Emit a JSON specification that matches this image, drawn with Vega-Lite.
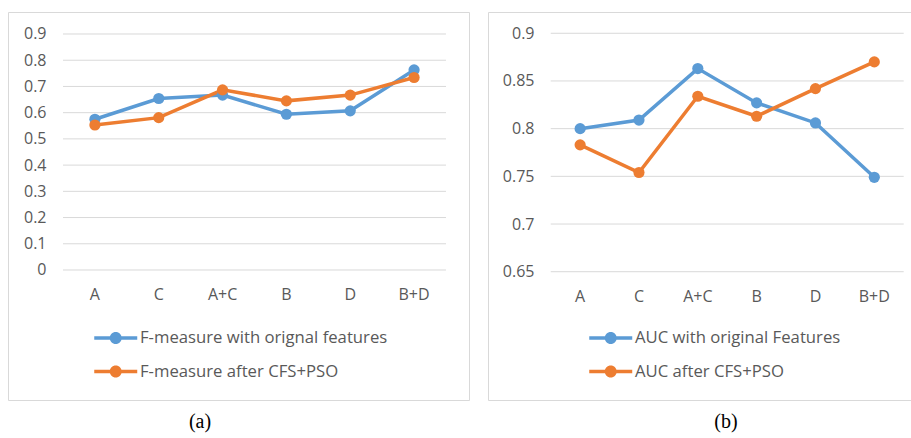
{
  "$schema": "https://vega.github.io/schema/vega-lite/v6.json",
  "padding": {"left": 7, "top": 11, "right": 0, "bottom": 0},
  "background": "white",
  "spacing": 17,
  "datasets": {
    "f": [
      {"cat": "A", "series": "F-measure with orignal features", "value": 0.575},
      {"cat": "C", "series": "F-measure with orignal features", "value": 0.654},
      {"cat": "A+C", "series": "F-measure with orignal features", "value": 0.667},
      {"cat": "B", "series": "F-measure with orignal features", "value": 0.594},
      {"cat": "D", "series": "F-measure with orignal features", "value": 0.607},
      {"cat": "B+D", "series": "F-measure with orignal features", "value": 0.763},
      {"cat": "A", "series": "F-measure after CFS+PSO", "value": 0.553},
      {"cat": "C", "series": "F-measure after CFS+PSO", "value": 0.581},
      {"cat": "A+C", "series": "F-measure after CFS+PSO", "value": 0.687},
      {"cat": "B", "series": "F-measure after CFS+PSO", "value": 0.645},
      {"cat": "D", "series": "F-measure after CFS+PSO", "value": 0.667},
      {"cat": "B+D", "series": "F-measure after CFS+PSO", "value": 0.734}
    ],
    "auc": [
      {"cat": "A", "series": "AUC with original Features", "value": 0.800},
      {"cat": "C", "series": "AUC with original Features", "value": 0.809},
      {"cat": "A+C", "series": "AUC with original Features", "value": 0.863},
      {"cat": "B", "series": "AUC with original Features", "value": 0.827},
      {"cat": "D", "series": "AUC with original Features", "value": 0.806},
      {"cat": "B+D", "series": "AUC with original Features", "value": 0.749},
      {"cat": "A", "series": "AUC after CFS+PSO", "value": 0.783},
      {"cat": "C", "series": "AUC after CFS+PSO", "value": 0.754},
      {"cat": "A+C", "series": "AUC after CFS+PSO", "value": 0.834},
      {"cat": "B", "series": "AUC after CFS+PSO", "value": 0.813},
      {"cat": "D", "series": "AUC after CFS+PSO", "value": 0.842},
      {"cat": "B+D", "series": "AUC after CFS+PSO", "value": 0.870}
    ],
    "gridA": [
      {"value": 0}, {"value": 0.1}, {"value": 0.2}, {"value": 0.3}, {"value": 0.4},
      {"value": 0.5}, {"value": 0.6}, {"value": 0.7}, {"value": 0.8}, {"value": 0.9}
    ],
    "gridB": [
      {"value": 0.65}, {"value": 0.7}, {"value": 0.75}, {"value": 0.8}, {"value": 0.85}, {"value": 0.9}
    ]
  },
  "config": {
    "view": {"stroke": "#d9d9d9", "strokeWidth": 1},
    "font": "Open Sans",
    "axis": {
      "grid": false, "domain": false, "ticks": false, "tickSize": 0,
      "labelColor": "#595959", "labelFontSize": 16, "labelPadding": 0,
      "title": null, "labelFont": "Open Sans"
    },
    "legend": {
      "orient": "none", "direction": "vertical", "title": null, "padding": 0,
      "symbolType": "M-1,-0.16 L3,-0.16 L3,0.16 L-1,0.16 Z M1.56,0 A0.56,0.56 0 1,1 0.44,0 A0.56,0.56 0 1,1 1.56,0 Z",
      "symbolSize": 462, "symbolStrokeWidth": 0, "symbolOpacity": 1,
      "labelFontSize": 16.7, "labelColor": "#595959", "labelFont": "Open Sans",
      "labelOffset": 24, "rowPadding": 13.5, "labelLimit": 400
    },
    "title": {
      "orient": "bottom", "font": "Liberation Serif", "fontSize": 20,
      "fontWeight": "normal", "color": "#000000", "baseline": "top", "offset": 12
    }
  },
  "hconcat": [
    {
      "width": 461, "height": 388,
      "title": {"text": "(a)", "dx": -38.5},
      "data": {"name": "f"},
      "encoding": {
        "x": {
          "field": "cat", "type": "nominal",
          "scale": {"type": "band", "domain": ["A", "C", "A+C", "B", "D", "B+D"], "paddingInner": 0, "paddingOuter": 0.611, "align": 0.705},
          "axis": {"orient": "bottom", "offset": -106, "labelBaseline": "middle", "labelAngle": 0}
        },
        "y": {
          "field": "value", "type": "quantitative",
          "scale": {"domain": [-0.4958, 0.9839], "nice": false, "zero": false},
          "axis": {"values": [0, 0.1, 0.2, 0.3, 0.4, 0.5, 0.6, 0.7, 0.8, 0.9], "format": "~g", "offset": -38, "labelAlign": "right", "labelBaseline": "middle"}
        },
        "color": {"field": "series", "type": "nominal",
          "scale": {"domain": ["F-measure with orignal features", "F-measure after CFS+PSO"], "range": ["#5b9bd5", "#ed7d31"]},
          "legend": {"legendX": 86, "legendY": 315}}
      },
      "layer": [
        {
          "data": {"name": "gridA"},
          "mark": {"type": "rule", "color": "#d9d9d9", "strokeWidth": 1},
          "encoding": {
            "x": {"datum": "A", "type": "nominal", "bandPosition": 0},
            "x2": {"datum": "B+D", "bandPosition": 1},
            "color": {"value": "#d9d9d9"}
          }
        },
        {
          "mark": {"type": "line", "strokeWidth": 3.5}
        },
        {
          "mark": {"type": "point", "filled": true, "size": 125, "opacity": 1}
        }
      ]
    },
    {
      "width": 425, "height": 388,
      "title": {"text": "(b)", "dx": 25.5},
      "data": {"name": "auc"},
      "encoding": {
        "x": {
          "field": "cat", "type": "nominal",
          "scale": {"type": "band", "domain": ["A", "C", "A+C", "B", "D", "B+D"], "paddingInner": 0, "paddingOuter": 0.612, "align": 0.871},
          "axis": {"orient": "bottom", "offset": -104, "labelBaseline": "middle", "labelAngle": 0}
        },
        "y": {
          "field": "value", "type": "quantitative",
          "scale": {"domain": [0.5155, 0.9223], "nice": false, "zero": false},
          "axis": {"values": [0.65, 0.7, 0.75, 0.8, 0.85, 0.9], "format": "~g", "offset": -46, "labelAlign": "right", "labelBaseline": "middle"}
        },
        "color": {"field": "series", "type": "nominal",
          "scale": {"domain": ["AUC with original Features", "AUC after CFS+PSO"], "range": ["#5b9bd5", "#ed7d31"]},
          "legend": {"legendX": 101, "legendY": 315}}
      },
      "layer": [
        {
          "data": {"name": "gridB"},
          "mark": {"type": "rule", "color": "#d9d9d9", "strokeWidth": 1},
          "encoding": {
            "x": {"datum": "A", "type": "nominal", "bandPosition": 0},
            "x2": {"datum": "B+D", "bandPosition": 1},
            "color": {"value": "#d9d9d9"}
          }
        },
        {
          "mark": {"type": "line", "strokeWidth": 3.5}
        },
        {
          "mark": {"type": "point", "filled": true, "size": 125, "opacity": 1}
        }
      ]
    }
  ],
  "resolve": {"scale": {"color": "independent", "x": "independent", "y": "independent"}, "legend": {"color": "independent"}}
}
